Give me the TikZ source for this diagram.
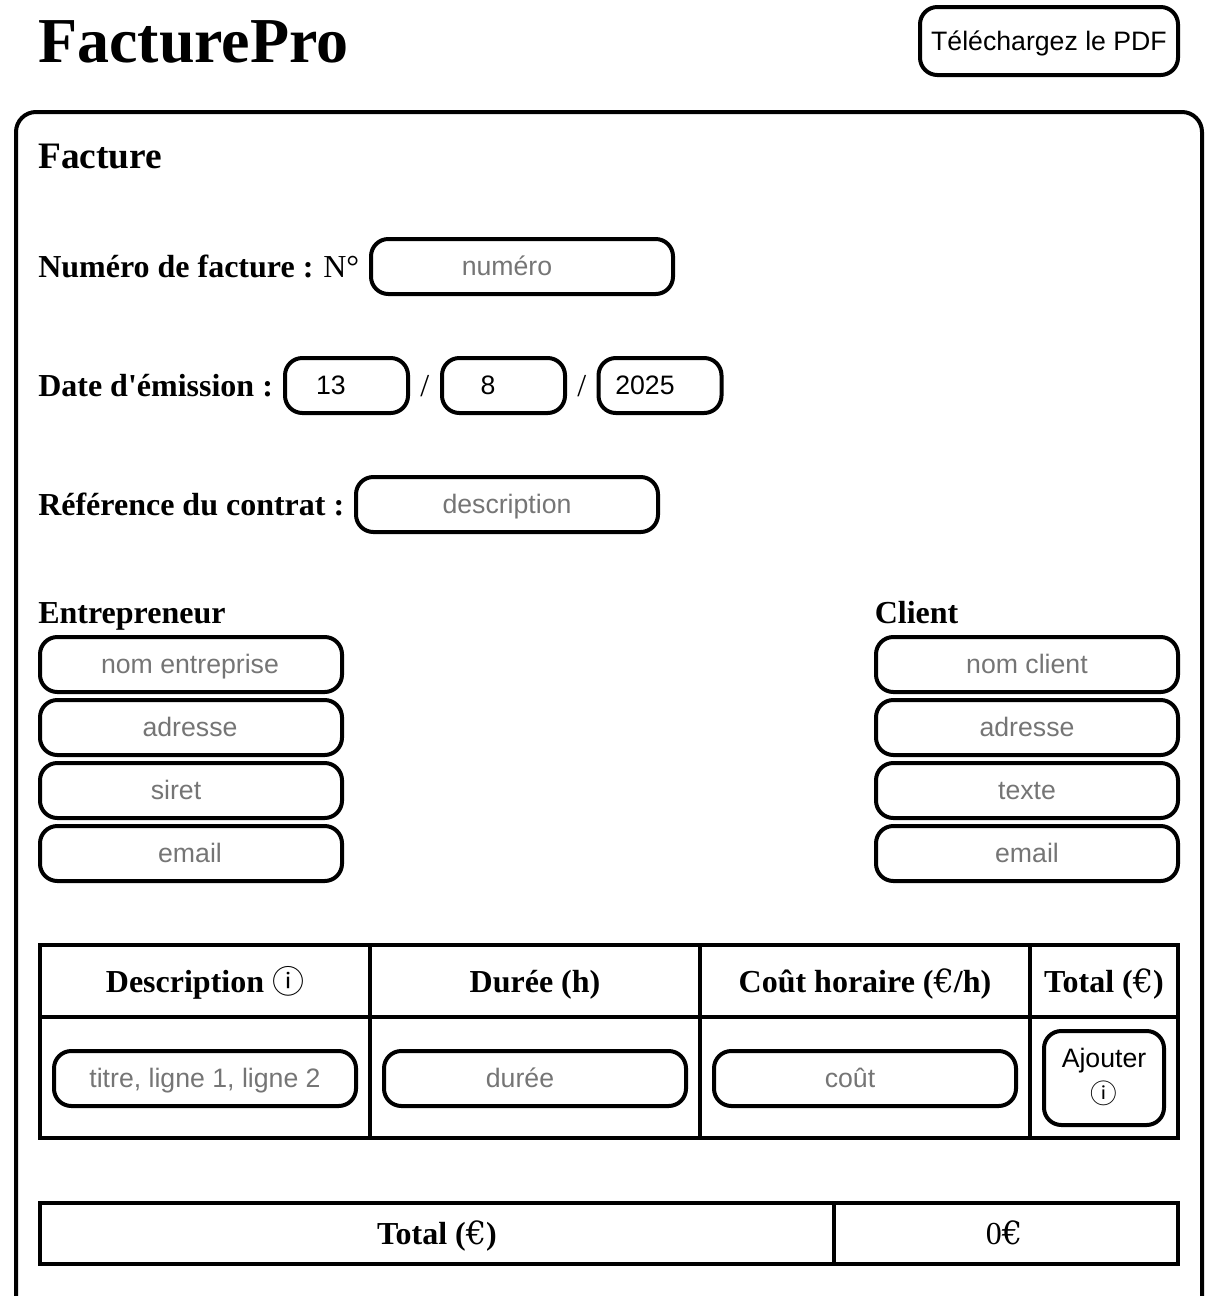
\documentclass[tikz,border=0pt]{standalone}
\usepackage{fontspec}
\setmainfont{Liberation Serif}
\setsansfont{Liberation Sans}
\newfontfamily\plainserif{Liberation Serif}
\newfontfamily\infofont{Noto Sans CJK JP}
\newfontfamily\eurofont{DejaVu Serif}
\usepackage{xcolor}
\definecolor{hint}{RGB}{117,117,117}
\tikzset{
  field/.style={draw=black, line width=3pt, rounded corners=13pt, inner sep=0pt,
    minimum width=226.5pt, minimum height=41.25pt},
  cell/.style={draw=black, line width=3pt, inner sep=0pt},
  hinttext/.style={anchor=base, inner sep=0pt, font=\sffamily\fontsize{20}{24}\selectfont, text=hint},
  valtext/.style={anchor=base, inner sep=0pt, font=\sffamily\fontsize{20}{24}\selectfont},
  lbl/.style={anchor=base west, inner sep=0pt, font=\bfseries\fontsize{24}{28}\selectfont},
  headtext/.style={anchor=base, inner sep=0pt, font=\bfseries\fontsize{24}{28}\selectfont}
}
\begin{document}
\begin{tikzpicture}[x=0.75pt, y=-0.75pt]
\useasboundingbox (0,0) rectangle (1224,1296);

% Title bar
\node[lbl, font=\bfseries\fontsize{48}{54}\selectfont] (title) at (38,62) {FacturePro};
\node[field, minimum width=193.5pt, minimum height=51pt] (pdf) at (1049,41) {};
\node[valtext] (pdftext) at (1049,50) {Téléchargez le PDF};

% Main panel
\draw[line width=3pt, rounded corners=15pt] (16,1310) -- (16,112) -- (1202,112) -- (1202,1310);
\node[lbl, font=\bfseries\fontsize{28}{32}\selectfont] (facture) at (38,168) {Facture};

% Invoice number
\node[lbl] (numlabel) at (38,277) {Numéro de facture :};
\node[lbl, font=\fontsize{24}{28}\selectfont] (numprefix) at (323,277) {N°};
\node[field] (num) at (522,266.5) {};
\node[hinttext] at (507,275) {numéro};

% Issue date
\node[lbl] (datelabel) at (38,396) {\plainserif Date d'émission :};
\node[field, minimum width=92.25pt] (day) at (346.5,385.5) {};
\node[field, minimum width=92.25pt] (month) at (503.5,385.5) {};
\node[field, minimum width=92.25pt] (year) at (660,385.5) {};
\node[valtext] at (331,394) {13};
\node[valtext] at (488,394) {8};
\node[valtext] at (645,394) {2025};
\node[lbl, font=\fontsize{24}{28}\selectfont] (slasha) at (420,396) {/};
\node[lbl, font=\fontsize{24}{28}\selectfont] (slashb) at (577,396) {/};

% Contract reference
\node[lbl] (reflabel) at (38,515) {Référence du contrat :};
\node[field] (ref) at (507,504.5) {};
\node[hinttext] at (507,513.5) {description};

% Contractor
\node[lbl] (contractor) at (38,623) {Entrepreneur};
\node[field] (cname) at (191,664.5) {};
\node[field] (caddr) at (191,727.5) {};
\node[field] (csiret) at (191,790.5) {};
\node[field] (cmail) at (191,853.5) {};
\node[hinttext] at (190,673) {nom entreprise};
\node[hinttext] at (190,736) {adresse};
\node[hinttext] at (176,799) {siret};
\node[hinttext] at (190,862) {email};

% Client
\node[lbl] (client) at (874.5,623) {Client};
\node[field] (kname) at (1027,664.5) {};
\node[field] (kaddr) at (1027,727.5) {};
\node[field] (ktext) at (1027,790.5) {};
\node[field] (kmail) at (1027,853.5) {};
\node[hinttext] at (1027,673) {nom client};
\node[hinttext] at (1027,736) {adresse};
\node[hinttext] at (1027,799) {texte};
\node[hinttext] at (1027,862) {email};

% Items table
\node[cell, minimum width=247.5pt, minimum height=54pt] (h1) at (205,981) {};
\node[cell, minimum width=247.5pt, minimum height=54pt] (h2) at (535,981) {};
\node[cell, minimum width=247.5pt, minimum height=54pt] (h3) at (865,981) {};
\node[cell, minimum width=111pt, minimum height=54pt] (h4) at (1104,981) {};
\node[cell, minimum width=247.5pt, minimum height=90.75pt] (r1) at (205,1077.5) {};
\node[cell, minimum width=247.5pt, minimum height=90.75pt] (r2) at (535,1077.5) {};
\node[cell, minimum width=247.5pt, minimum height=90.75pt] (r3) at (865,1077.5) {};
\node[cell, minimum width=111pt, minimum height=90.75pt] (r4) at (1104,1077.5) {};
\node[headtext] at (205,992) {Description {\mdseries\infofont\raisebox{-0.75pt}{ⓘ}}};
\node[headtext] at (535,992) {Durée (h)};
\node[headtext] at (865,992) {Coût horaire ({\mdseries\eurofont €}/h)};
\node[headtext] at (1104,992) {Total ({\mdseries\eurofont €})};
\node[field] (fdesc) at (205,1078.5) {};
\node[field] (fdur) at (535,1078.5) {};
\node[field] (fcost) at (865,1078.5) {};
\node[hinttext] at (205,1087) {titre, ligne 1, ligne 2};
\node[hinttext] at (520,1087) {durée};
\node[hinttext] at (850,1087) {coût};
\node[field, minimum width=90pt, minimum height=70.5pt] (add) at (1104,1078) {};
\node[valtext] at (1104,1067) {Ajouter};
\node[valtext, font=\infofont\fontsize{20}{24}\selectfont] at (1104,1103) {ⓘ};

% Grand total
\node[cell, minimum width=595.5pt, minimum height=45.75pt] (tleft) at (437,1233.5) {};
\node[cell, minimum width=258pt, minimum height=45.75pt] (tright) at (1006,1233.5) {};
\node[headtext] at (437,1244) {Total ({\mdseries\eurofont €})};
\node[anchor=base, inner sep=0pt, font=\fontsize{24}{28}\selectfont] at (1004,1244) {0{\eurofont €}};

\end{tikzpicture}
\end{document}
